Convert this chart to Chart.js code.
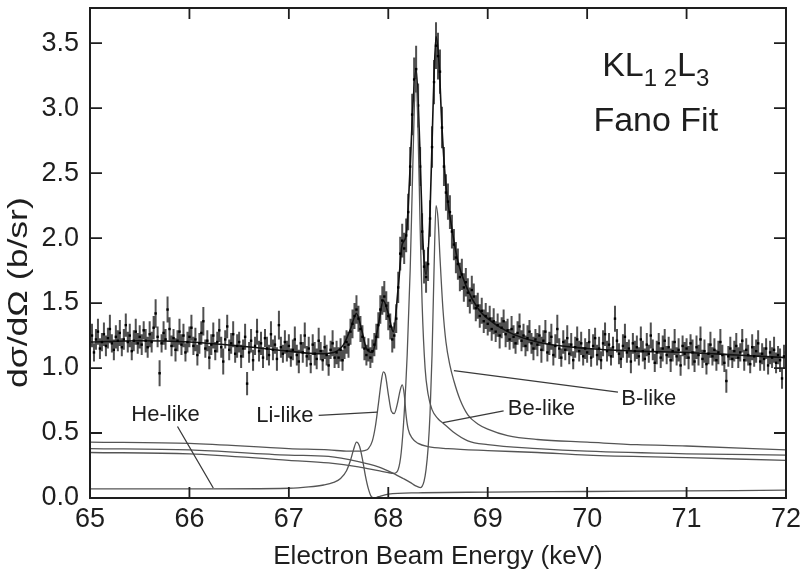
<!DOCTYPE html>
<html>
<head>
<meta charset="utf-8">
<title>KL12L3 Fano Fit</title>
<script src="https://cdn.jsdelivr.net/npm/chart.js@4.4.1/dist/chart.umd.min.js"></script>
<style>
  html, body { margin: 0; padding: 0; background: #fff; }
  #fano { display: block; }
</style>
</head>
<body>
<canvas id="fano" width="802" height="574"></canvas>
<script>
// measured cross section, one value every 0.02 keV from 65.00 to 72.00 keV
const dataStart = 65.0;
const dataStep = 0.02;
const dataY = [
  1.18, 1.25, 1.12, 1.22, 1.28, 1.15, 1.20, 1.26, 1.17, 1.23, 1.30, 1.19, 1.14, 1.24, 1.21, 1.27, 1.16, 1.22, 1.33, 1.20, 1.25, 1.13, 1.21, 1.28, 1.19,
  1.24, 1.18, 1.29, 1.21, 1.16, 1.26, 1.20, 1.31, 1.42, 1.24, 0.96, 1.19, 1.27, 1.22, 1.45, 1.30, 1.17, 1.23, 1.14, 1.21, 1.28, 1.18, 1.25, 1.12, 1.20,
  1.24, 1.31, 1.17, 1.22, 1.10, 1.19, 1.27, 1.36, 1.15, 1.21, 1.08, 1.18, 1.25, 1.13, 1.20, 1.29, 1.16, 1.05, 1.22, 1.32, 1.14, 1.19, 1.26, 1.11, 1.17,
  1.20, 1.09, 1.15, 1.24, 0.88, 1.12, 1.21, 1.06, 1.17, 1.28, 1.13, 1.19, 1.08, 1.23, 1.15, 1.10, 1.26, 1.14, 1.18, 1.07, 1.33, 1.16, 1.11, 1.20, 1.13,
  1.17, 1.08, 1.14, 1.22, 1.10, 1.05, 1.19, 1.12, 1.25, 1.09, 1.15, 1.03, 1.18, 1.11, 1.07, 1.21, 1.13, 1.06, 1.16, 1.10, 1.02, 1.14, 1.19, 1.08, 1.12,
  1.08, 1.14, 1.06, 1.16, 1.20, 1.18, 1.28, 1.34, 1.40, 1.45, 1.38, 1.30, 1.24, 1.15, 1.10, 1.14, 1.08, 1.13, 1.18, 1.24, 1.33, 1.45, 1.52, 1.55, 1.48,
  1.40, 1.32, 1.22, 1.25, 1.38, 1.62, 1.88, 1.98, 1.92, 2.02, 2.20, 2.55, 2.95, 3.22, 3.30, 3.02, 2.55, 2.05, 1.78, 1.70, 1.80, 2.15, 2.70, 3.20, 3.48,
  3.40, 3.28, 2.85, 2.55, 2.35, 2.28, 2.20, 2.05, 1.95, 1.85, 1.80, 1.70, 1.72, 1.62, 1.66, 1.58, 1.52, 1.60, 1.55, 1.46, 1.48, 1.40, 1.44, 1.36, 1.40,
  1.34, 1.38, 1.30, 1.36, 1.28, 1.33, 1.25, 1.31, 1.36, 1.26, 1.29, 1.22, 1.30, 1.24, 1.19, 1.27, 1.32, 1.21, 1.25, 1.17, 1.23, 1.28, 1.19, 1.15, 1.22,
  1.18, 1.25, 1.14, 1.21, 1.28, 1.12, 1.19, 1.24, 1.10, 1.17, 1.30, 1.15, 1.08, 1.20, 1.14, 1.23, 1.11, 1.18, 1.06, 1.16, 1.22, 1.13, 1.19, 1.09, 1.15,
  1.12, 1.20, 1.08, 1.17, 1.23, 1.10, 1.15, 1.06, 1.19, 1.26, 1.13, 1.18, 1.09, 1.16, 1.38, 1.21, 1.11, 1.07, 1.17, 1.24, 1.12, 1.15, 1.05, 1.19, 1.13,
  1.16, 1.09, 1.22, 1.13, 1.07, 1.18, 1.11, 1.25, 1.14, 1.04, 1.12, 1.19, 1.08, 1.15, 1.21, 1.10, 1.16, 1.06, 1.13, 1.20, 1.09, 1.14, 1.02, 1.17, 1.11,
  1.15, 1.08, 1.19, 1.12, 1.05, 1.16, 1.10, 1.22, 1.07, 1.13, 1.03, 1.11, 1.18, 1.09, 1.14, 1.06, 1.12, 1.20, 1.10, 1.04, 0.90, 1.09, 1.15, 1.07, 1.13,
  1.17, 1.08, 1.12, 1.21, 1.06, 1.14, 1.10, 1.03, 1.16, 1.09, 1.13, 1.19, 1.05, 1.11, 1.07, 1.15, 1.02, 1.12, 1.08, 1.14, 1.04, 1.10, 1.06, 0.92, 1.09,
  1.12
];
// half length of each error bar
const dataErr = [
  0.08, 0.09, 0.07, 0.08, 0.10, 0.08, 0.07, 0.09, 0.08, 0.08, 0.11, 0.07, 0.08, 0.09, 0.08, 0.10, 0.07, 0.08, 0.09, 0.08, 0.09, 0.07, 0.08, 0.10, 0.08,
  0.09, 0.08, 0.07, 0.09, 0.08, 0.10, 0.08, 0.09, 0.11, 0.08, 0.10, 0.07, 0.09, 0.08, 0.10, 0.09, 0.08, 0.07, 0.09, 0.08, 0.10, 0.08, 0.09, 0.07, 0.08,
  0.08, 0.10, 0.07, 0.09, 0.08, 0.08, 0.09, 0.11, 0.07, 0.08, 0.09, 0.08, 0.10, 0.07, 0.08, 0.09, 0.08, 0.10, 0.07, 0.09, 0.08, 0.08, 0.10, 0.07, 0.09,
  0.08, 0.09, 0.07, 0.10, 0.09, 0.08, 0.09, 0.08, 0.07, 0.10, 0.08, 0.09, 0.08, 0.07, 0.09, 0.08, 0.10, 0.08, 0.07, 0.09, 0.11, 0.08, 0.07, 0.09, 0.08,
  0.09, 0.07, 0.08, 0.10, 0.08, 0.09, 0.07, 0.08, 0.10, 0.08, 0.09, 0.07, 0.08, 0.09, 0.08, 0.10, 0.07, 0.08, 0.09, 0.08, 0.08, 0.07, 0.10, 0.08, 0.09,
  0.08, 0.09, 0.08, 0.09, 0.09, 0.10, 0.10, 0.11, 0.10, 0.11, 0.10, 0.10, 0.09, 0.09, 0.08, 0.09, 0.08, 0.09, 0.09, 0.10, 0.10, 0.11, 0.11, 0.12, 0.11,
  0.11, 0.10, 0.10, 0.10, 0.11, 0.12, 0.13, 0.13, 0.12, 0.13, 0.14, 0.15, 0.16, 0.17, 0.18, 0.17, 0.15, 0.14, 0.13, 0.12, 0.13, 0.14, 0.16, 0.17, 0.18,
  0.18, 0.17, 0.16, 0.15, 0.14, 0.14, 0.13, 0.13, 0.12, 0.12, 0.12, 0.11, 0.12, 0.11, 0.11, 0.11, 0.10, 0.11, 0.10, 0.10, 0.10, 0.09, 0.10, 0.09, 0.10,
  0.09, 0.10, 0.09, 0.10, 0.08, 0.09, 0.10, 0.08, 0.09, 0.10, 0.09, 0.08, 0.10, 0.09, 0.08, 0.09, 0.10, 0.08, 0.09, 0.08, 0.10, 0.09, 0.08, 0.09, 0.08,
  0.09, 0.08, 0.10, 0.08, 0.09, 0.07, 0.09, 0.10, 0.08, 0.09, 0.11, 0.08, 0.07, 0.09, 0.08, 0.10, 0.08, 0.09, 0.07, 0.08, 0.10, 0.08, 0.09, 0.07, 0.08,
  0.08, 0.10, 0.07, 0.09, 0.08, 0.08, 0.09, 0.07, 0.10, 0.09, 0.08, 0.09, 0.07, 0.08, 0.10, 0.09, 0.08, 0.07, 0.09, 0.10, 0.08, 0.07, 0.09, 0.08, 0.08,
  0.09, 0.07, 0.10, 0.08, 0.08, 0.09, 0.07, 0.10, 0.08, 0.07, 0.09, 0.08, 0.08, 0.10, 0.09, 0.07, 0.08, 0.09, 0.08, 0.10, 0.07, 0.09, 0.08, 0.08, 0.09,
  0.08, 0.09, 0.07, 0.10, 0.08, 0.09, 0.08, 0.10, 0.07, 0.09, 0.08, 0.08, 0.10, 0.07, 0.09, 0.08, 0.09, 0.10, 0.08, 0.07, 0.09, 0.08, 0.09, 0.07, 0.08,
  0.10, 0.08, 0.07, 0.09, 0.08, 0.09, 0.08, 0.07, 0.10, 0.08, 0.09, 0.10, 0.07, 0.08, 0.09, 0.08, 0.07, 0.09, 0.08, 0.10, 0.08, 0.07, 0.09, 0.08, 0.09,
  0.08
];

// total Fano fit
const fitE = [65, 65.5, 66, 66.5, 67, 67.3, 67.45, 67.55, 67.62, 67.68, 67.73, 67.78, 67.84, 67.9, 67.95, 68.0, 68.05, 68.1, 68.14, 68.18, 68.22, 68.25, 68.28, 68.31, 68.35, 68.38, 68.42, 68.45, 68.48, 68.51, 68.54, 68.58, 68.63, 68.7, 68.8, 68.9, 69.0, 69.2, 69.5, 70, 70.5, 71, 71.5, 72];
const fitY = [1.2, 1.21, 1.2, 1.17, 1.13, 1.11, 1.12, 1.18, 1.3, 1.42, 1.3, 1.15, 1.12, 1.33, 1.52, 1.42, 1.28, 1.62, 1.95, 2.02, 2.55, 3.05, 3.3, 2.85, 1.95, 1.72, 2.2, 3.0, 3.55, 3.35, 2.85, 2.4, 2.12, 1.82, 1.6, 1.46, 1.38, 1.28, 1.2, 1.15, 1.13, 1.12, 1.1, 1.08];

// fitted components
const heE = [65, 66, 67, 67.2, 67.35, 67.45, 67.52, 67.58, 67.62, 67.65, 67.68, 67.71, 67.74, 67.77, 67.8, 67.83, 67.86, 67.9, 68.0, 68.3, 69, 70, 71, 72];
const heY = [0.07, 0.07, 0.075, 0.085, 0.1, 0.12, 0.15, 0.21, 0.29, 0.37, 0.43, 0.4, 0.3, 0.17, 0.07, 0.01, 0.0, 0.01, 0.03, 0.04, 0.045, 0.05, 0.055, 0.06];

const liE = [65, 66, 67, 67.4, 67.6, 67.7, 67.76, 67.8, 67.84, 67.87, 67.9, 67.93, 67.95, 67.97, 68.0, 68.03, 68.06, 68.09, 68.12, 68.14, 68.16, 68.18, 68.2, 68.24, 68.3, 68.4, 68.6, 69, 69.5, 70, 71, 72];
const liY = [0.43, 0.42, 0.38, 0.37, 0.36, 0.36, 0.365, 0.38, 0.44, 0.55, 0.72, 0.9, 0.97, 0.95, 0.8, 0.67, 0.65, 0.72, 0.83, 0.87, 0.8, 0.63, 0.53, 0.46, 0.42, 0.395, 0.38, 0.365, 0.35, 0.33, 0.31, 0.29];

const beE = [65, 66, 67, 67.4, 67.7, 67.9, 68.0, 68.06, 68.1, 68.13, 68.16, 68.19, 68.22, 68.24, 68.26, 68.27, 68.28, 68.3, 68.32, 68.34, 68.37, 68.4, 68.44, 68.5, 68.56, 68.65, 68.8, 69.0, 69.5, 70, 71, 72];
const beY = [0.35, 0.34, 0.29, 0.27, 0.24, 0.21, 0.195, 0.19, 0.22, 0.35, 0.65, 1.1, 1.75, 2.35, 2.95, 3.2, 3.22, 2.8, 2.1, 1.5, 1.0, 0.8, 0.68, 0.61, 0.57, 0.51, 0.44, 0.41, 0.38, 0.36, 0.34, 0.33];

const bE = [65, 66, 67, 67.4, 67.7, 67.9, 68.05, 68.15, 68.22, 68.27, 68.3, 68.32, 68.34, 68.36, 68.38, 68.4, 68.42, 68.44, 68.46, 68.48, 68.5, 68.52, 68.55, 68.58, 68.62, 68.66, 68.72, 68.8, 68.9, 69.0, 69.2, 69.5, 70, 70.5, 71, 72];
const bY = [0.38, 0.37, 0.33, 0.32, 0.28, 0.24, 0.19, 0.15, 0.12, 0.095, 0.085, 0.08, 0.09, 0.13, 0.22, 0.38, 0.65, 1.1, 1.75, 2.25, 2.15, 1.85, 1.45, 1.2, 1.02, 0.9, 0.76, 0.64, 0.57, 0.53, 0.48, 0.45, 0.43, 0.41, 0.4, 0.37];

// axes
const xTicks = [65, 66, 67, 68, 69, 70, 71, 72];
const yTicks = [0, 0.5, 1.0, 1.5, 2.0, 2.5, 3.0, 3.5];

// component labels: text position, leader start, leader end (keV, b/sr)
const noteText = ['He-like', 'Li-like', 'Be-like', 'B-like'];
const noteAt = [[65.76, 0.64], [66.96, 0.63], [69.54, 0.685], [70.62, 0.76]];
const leaderFrom = [[65.88, 0.55], [67.30, 0.635], [69.16, 0.67], [70.31, 0.815]];
const leaderTo = [[66.24, 0.077], [67.89, 0.66], [68.55, 0.58], [68.66, 0.98]];

const FONT = '"Liberation Sans", Arial, Helvetica, sans-serif';
const INK = '#1e1e1e';

const pairs = (xs, ys) => xs.map((e, i) => ({ x: e, y: ys[i] }));
const measured = dataY.map((v, i) => ({ x: dataStart + i * dataStep, y: v }));

const curve = (pts, color, width) => ({
    type: 'line',
    data: pts,
    borderColor: color,
    borderWidth: width,
    pointRadius: 0,
    fill: false,
    cubicInterpolationMode: 'monotone'
});

const framePlugin = {
    id: 'frameAndNotes',
    beforeDatasetsDraw(chart) {
        // error bars on the measured points
        const { ctx, chartArea, scales: { x, y } } = chart;
        ctx.save();
        ctx.beginPath();
        ctx.rect(chartArea.left, chartArea.top, chartArea.right - chartArea.left, chartArea.bottom - chartArea.top);
        ctx.clip();
        ctx.strokeStyle = '#505050';
        ctx.lineWidth = 2;
        ctx.beginPath();
        measured.forEach((p, i) => {
            const px = x.getPixelForValue(p.x);
            ctx.moveTo(px, y.getPixelForValue(p.y - dataErr[i]));
            ctx.lineTo(px, y.getPixelForValue(p.y + dataErr[i]));
        });
        ctx.stroke();
        ctx.restore();
    },
    afterDraw(chart) {
        const { ctx, chartArea: a, scales: { x, y } } = chart;
        ctx.save();
        ctx.strokeStyle = INK;

        // box
        ctx.lineWidth = 2;
        ctx.strokeRect(a.left, a.top, a.right - a.left, a.bottom - a.top);

        // inward ticks on all four sides
        ctx.lineWidth = 1.8;
        ctx.beginPath();
        xTicks.forEach(v => {
            const px = x.getPixelForValue(v);
            ctx.moveTo(px, a.bottom); ctx.lineTo(px, a.bottom - 11);
            ctx.moveTo(px, a.top); ctx.lineTo(px, a.top + 11);
        });
        yTicks.forEach(v => {
            const py = y.getPixelForValue(v);
            ctx.moveTo(a.left, py); ctx.lineTo(a.left + 12, py);
            ctx.moveTo(a.right, py); ctx.lineTo(a.right - 12, py);
        });
        ctx.stroke();

        // y axis title
        ctx.fillStyle = INK;
        ctx.font = '28px ' + FONT;
        ctx.textAlign = 'center';
        ctx.textBaseline = 'middle';
        ctx.save();
        ctx.translate(19, y.getPixelForValue(1.58));
        ctx.rotate(-Math.PI / 2);
        ctx.scale(1.27, 1);
        ctx.fillText('dσ/dΩ (b/sr)', 0, 0);
        ctx.restore();

        // leaders and component labels
        ctx.lineWidth = 1.3;
        ctx.strokeStyle = '#3a3a3a';
        ctx.beginPath();
        leaderFrom.forEach((f, i) => {
            ctx.moveTo(x.getPixelForValue(f[0]), y.getPixelForValue(f[1]));
            ctx.lineTo(x.getPixelForValue(leaderTo[i][0]), y.getPixelForValue(leaderTo[i][1]));
        });
        ctx.stroke();
        ctx.font = '22px ' + FONT;
        noteText.forEach((t, i) => {
            ctx.fillText(t, x.getPixelForValue(noteAt[i][0]), y.getPixelForValue(noteAt[i][1]));
        });

        // KL12L3 / Fano Fit
        const cx = x.getPixelForValue(70.69);
        const base1 = y.getPixelForValue(3.25);
        const big = '34px ' + FONT, small = '24px ' + FONT;
        const parts = [['KL', big, 0], ['1 2', small, 10], ['L', big, 0], ['3', small, 10]];
        let total = 0;
        parts.forEach(p => { ctx.font = p[1]; total += ctx.measureText(p[0]).width; });
        let px = cx - total / 2;
        ctx.textAlign = 'left';
        ctx.textBaseline = 'alphabetic';
        parts.forEach(p => {
            ctx.font = p[1];
            ctx.fillText(p[0], px, base1 + p[2]);
            px += ctx.measureText(p[0]).width;
        });
        ctx.font = big;
        ctx.textAlign = 'center';
        ctx.fillText('Fano Fit', cx, y.getPixelForValue(2.82));
        ctx.restore();
    }
};

const ctx = document.getElementById('fano').getContext('2d');
new Chart(ctx, {
    type: 'scatter',
    data: {
        datasets: [
            curve(pairs(heE, heY), '#555', 1.3),
            curve(pairs(liE, liY), '#555', 1.3),
            curve(pairs(beE, beY), '#555', 1.3),
            curve(pairs(bE, bY), '#555', 1.3),
            {
                type: 'scatter',
                data: measured,
                pointStyle: 'rect',
                pointRadius: 1.7,
                pointBorderWidth: 0,
                backgroundColor: '#000',
                borderColor: '#000'
            },
            curve(pairs(fitE, fitY), '#111', 1.6)
        ]
    },
    options: {
        responsive: false,
        animation: false,
        events: [],
        layout: { padding: { top: 8, right: 16, left: 0, bottom: 0 } },
        plugins: { legend: { display: false }, tooltip: { enabled: false } },
        scales: {
            x: {
                type: 'linear',
                min: 65,
                max: 72,
                afterBuildTicks: s => { s.ticks = xTicks.map(v => ({ value: v })); },
                afterFit: s => { s.height = 76; s.paddingLeft = 0; s.paddingRight = 0; },
                grid: { display: false, drawTicks: false },
                border: { display: false },
                ticks: { color: INK, font: { family: FONT, size: 27 }, padding: 5, maxRotation: 0 },
                title: { display: true, text: 'Electron Beam Energy (keV)', color: INK, font: { family: FONT, size: 26 }, padding: { top: 0, bottom: 2 } }
            },
            y: {
                type: 'linear',
                min: 0,
                max: 3.77,
                afterBuildTicks: s => { s.ticks = yTicks.map(v => ({ value: v })); },
                afterFit: s => { s.width = 90; s.paddingTop = 0; s.paddingBottom = 0; },
                grid: { display: false, drawTicks: false },
                border: { display: false },
                ticks: { color: INK, font: { family: FONT, size: 27 }, padding: 11, callback: v => v.toFixed(1) }
            }
        }
    },
    plugins: [framePlugin]
});
</script>
</body>
</html>
